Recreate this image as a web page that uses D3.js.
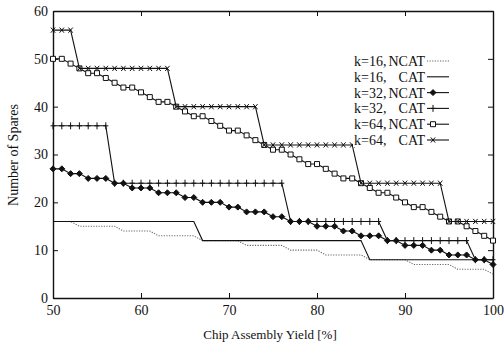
<!DOCTYPE html>
<html>
<head>
<meta charset="utf-8">
<script src="https://cdn.jsdelivr.net/npm/d3@7"></script>
<style>
  body { margin: 0; background: #fff; }
  text { font-family: "Liberation Serif", "Times New Roman", serif; fill: #111; }
</style>
</head>
<body>
<div class="graph-spares"></div>
<script>
const yields = [50, 51, 52, 53, 54, 55, 56, 57, 58, 59, 60, 61, 62, 63, 64, 65, 66, 67, 68, 69, 70,
  71, 72, 73, 74, 75, 76, 77, 78, 79, 80, 81, 82, 83, 84, 85, 86, 87, 88, 89, 90,
  91, 92, 93, 94, 95, 96, 97, 98, 99, 100];

const k16ncat = [16, 16, 16, 15, 15, 15, 15, 15, 14, 14, 14, 14, 13, 13, 13, 13, 13, 12, 12, 12, 12,
  12, 11, 11, 11, 11, 11, 10, 10, 10, 10, 9, 9, 9, 9, 9, 8, 8, 8, 8, 8,
  7, 7, 7, 7, 7, 6, 6, 6, 6, 5];
const k16cat = [16, 16, 16, 16, 16, 16, 16, 16, 16, 16, 16, 16, 16, 16, 16, 16, 16, 12, 12, 12, 12,
  12, 12, 12, 12, 12, 12, 12, 12, 12, 12, 12, 12, 12, 12, 12, 8, 8, 8, 8, 8,
  8, 8, 8, 8, 8, 8, 8, 8, 8, 8];
const k32ncat = [27, 27, 26, 26, 25, 25, 25, 24, 24, 23, 23, 23, 22, 22, 22, 21, 21, 20, 20, 20, 19,
  19, 18, 18, 18, 17, 17, 16, 16, 16, 15, 15, 15, 14, 14, 13, 13, 13, 12, 12, 11,
  11, 11, 10, 10, 9, 9, 9, 8, 8, 7];
const k32cat = [36, 36, 36, 36, 36, 36, 36, 24, 24, 24, 24, 24, 24, 24, 24, 24, 24, 24, 24, 24, 24,
  24, 24, 24, 24, 24, 24, 16, 16, 16, 16, 16, 16, 16, 16, 16, 16, 16, 12, 12, 12,
  12, 12, 12, 12, 12, 12, 12, 8, 8, 8];
const k64ncat = [50, 50, 49, 48, 47, 47, 46, 45, 44, 44, 43, 42, 41, 41, 40, 39, 38, 38, 37, 36, 35,
  35, 34, 33, 32, 31, 31, 30, 29, 28, 28, 27, 26, 25, 25, 24, 23, 22, 22, 21, 20,
  19, 19, 18, 17, 16, 16, 15, 14, 13, 12];
const k64cat = [56, 56, 56, 48, 48, 48, 48, 48, 48, 48, 48, 48, 48, 48, 40, 40, 40, 40, 40, 40, 40,
  40, 40, 40, 32, 32, 32, 32, 32, 32, 32, 32, 32, 32, 32, 24, 24, 24, 24, 24, 24,
  24, 24, 24, 24, 16, 16, 16, 16, 16, 16];

const xTicks = [50, 60, 70, 80, 90, 100];
const yTicks = [0, 10, 20, 30, 40, 50, 60];

const seriesNames = ["k=16", "k=16", "k=32", "k=32", "k=64", "k=64"];
const seriesKinds = ["NCAT", "CAT", "NCAT", "CAT", "NCAT", "CAT"];

const width = 504;
const height = 349;
const plotLeft = 53, plotRight = 493, plotTop = 11, plotBottom = 298;

const series = [
  { values: k16ncat, marker: null, dash: "1.2,1.4", stroke: "#666" },
  { values: k16cat, marker: null, dash: null, stroke: "#111" },
  { values: k32ncat, marker: "diamond", dash: null, stroke: "#111" },
  { values: k32cat, marker: "plus", dash: null, stroke: "#111" },
  { values: k64ncat, marker: "square", dash: null, stroke: "#111" },
  { values: k64cat, marker: "x", dash: null, stroke: "#111" }
];

const svg = d3.select(".graph-spares")
    .append("svg")
    .attr("width", width)
    .attr("height", height);

const x = d3.scaleLinear().domain([50, 100]).range([plotLeft, plotRight]);
const y = d3.scaleLinear().domain([0, 60]).range([plotBottom, plotTop]);

// frame + inner ticks
svg.append("g")
    .attr("transform", "translate(0," + plotBottom + ")")
    .call(d3.axisBottom(x).tickValues(xTicks).tickSizeInner(-5).tickSizeOuter(0).tickPadding(7))
    .call(g => g.selectAll("text").style("font-size", "14px"));
svg.append("g")
    .attr("transform", "translate(0," + plotTop + ")")
    .call(d3.axisTop(x).tickValues(xTicks).tickSizeInner(-5).tickSizeOuter(0).tickFormat(""));
svg.append("g")
    .attr("transform", "translate(" + plotLeft + ",0)")
    .call(d3.axisLeft(y).tickValues(yTicks).tickSizeInner(-5).tickSizeOuter(0).tickPadding(5))
    .call(g => g.selectAll("text").style("font-size", "14px"));
svg.append("g")
    .attr("transform", "translate(" + plotRight + ",0)")
    .call(d3.axisRight(y).tickValues(yTicks).tickSizeInner(-5).tickSizeOuter(0).tickFormat(""));

svg.selectAll(".domain").attr("stroke", "#111").attr("stroke-width", 1.4);
svg.selectAll(".tick line").attr("stroke", "#111");
svg.selectAll(".tick text").attr("fill", "#111");

function markerPath(type) {
  if (type === "plus") return "M0,-3.5V3.5M-2.5,0H2.5";
  if (type === "x") return "M-2.2,-2.6L2.2,2.6M2.2,-2.6L-2.2,2.6";
  if (type === "square") return "M-2.5,-2.5H2.5V2.5H-2.5Z";
  if (type === "diamond") return "M0,-3L3,0L0,3L-3,0Z";
  return "";
}

function drawMarker(g, type, px, py) {
  g.append("path")
      .attr("transform", "translate(" + px + "," + py + ")")
      .attr("d", markerPath(type))
      .attr("fill", type === "diamond" ? "#111" : (type === "square" ? "#fff" : "none"))
      .attr("stroke", "#111")
      .attr("stroke-width", 1);
}

const line = d3.line()
    .x((d, i) => x(yields[i]))
    .y(d => y(d));

series.forEach(s => {
  const g = svg.append("g");
  g.append("path")
      .datum(s.values)
      .attr("d", line)
      .attr("fill", "none")
      .attr("stroke", s.stroke)
      .attr("stroke-width", 1.1)
      .attr("stroke-dasharray", s.dash);
  if (s.marker) {
    s.values.forEach((v, i) => drawMarker(g, s.marker, x(yields[i]), y(v)));
  }
});

// legend
const legend = svg.append("g");
series.forEach((s, i) => {
  const ly = 61 + i * 15.8;
  legend.append("rect")
      .attr("x", 353).attr("y", ly - 7).attr("width", 98).attr("height", 14)
      .attr("fill", "#fff");
  legend.append("text")
      .attr("x", 354).attr("y", ly + 5)
      .style("font-size", "14px")
      .text(seriesNames[i]);
  legend.append("text")
      .attr("x", 383).attr("y", ly + 5)
      .style("font-size", "14px")
      .text(",");
  legend.append("text")
      .attr("x", 425).attr("y", ly + 5)
      .attr("text-anchor", "end")
      .style("font-size", "14px")
      .text(seriesKinds[i]);
  legend.append("line")
      .attr("x1", 427).attr("x2", 449)
      .attr("y1", ly).attr("y2", ly)
      .attr("stroke", s.stroke)
      .attr("stroke-width", 1.1)
      .attr("stroke-dasharray", s.dash);
  if (s.marker) drawMarker(legend, s.marker, 433, ly);
});

// axis titles
svg.append("text")
    .attr("x", 270)
    .attr("y", 339)
    .attr("text-anchor", "middle")
    .style("font-size", "13px")
    .text("Chip Assembly Yield [%]");

svg.append("text")
    .attr("transform", "translate(18,155) rotate(-90)")
    .attr("text-anchor", "middle")
    .style("font-size", "14px")
    .text("Number of Spares");
</script>
</body>
</html>
